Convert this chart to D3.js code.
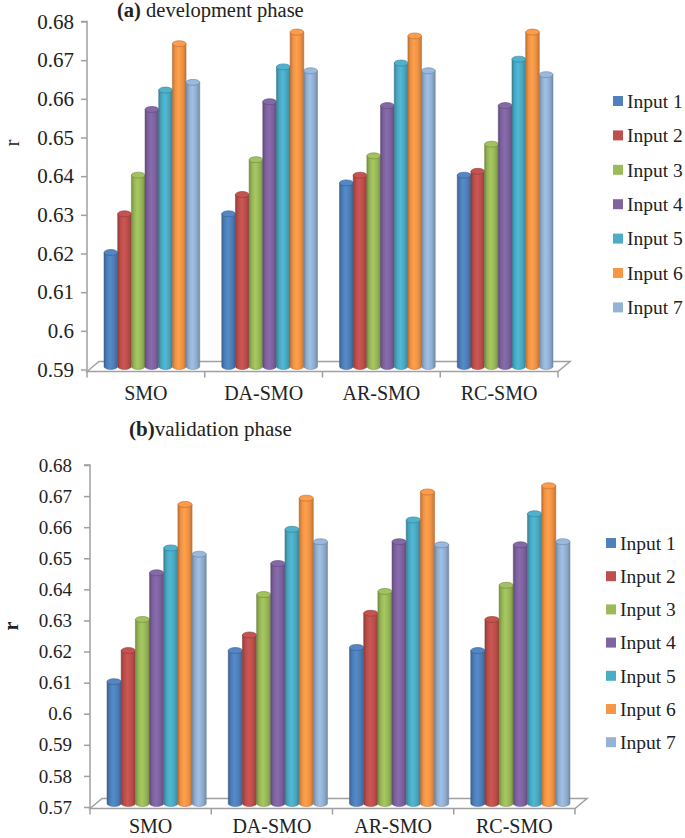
<!DOCTYPE html>
<html><head><meta charset="utf-8">
<script src="https://cdn.jsdelivr.net/npm/d3@7"></script>
<style>
body{margin:0;background:#fff;}
svg{display:block;}
svg text{font-family:"Liberation Serif","Times New Roman",Times,serif !important;}
</style></head>
<body>
<svg id="chart" width="685" height="838"></svg>
<script>
const categories = ["SMO","DA-SMO","AR-SMO","RC-SMO"];
const seriesNames = ["Input 1","Input 2","Input 3","Input 4","Input 5","Input 6","Input 7"];
const seriesColors = ["#4F81BD","#C0504D","#9BBB59","#8064A2","#4BACC6","#F79646","#95B3D7"];

// (a) development phase — one array per series, values per category
const devInput1 = [0.620, 0.630, 0.638, 0.640];
const devInput2 = [0.630, 0.635, 0.640, 0.641];
const devInput3 = [0.640, 0.644, 0.645, 0.648];
const devInput4 = [0.657, 0.659, 0.658, 0.658];
const devInput5 = [0.662, 0.668, 0.669, 0.670];
const devInput6 = [0.674, 0.677, 0.676, 0.677];
const devInput7 = [0.664, 0.667, 0.667, 0.666];

// (b) validation phase
const valInput1 = [0.610, 0.620, 0.621, 0.620];
const valInput2 = [0.620, 0.625, 0.632, 0.630];
const valInput3 = [0.630, 0.638, 0.639, 0.641];
const valInput4 = [0.645, 0.648, 0.655, 0.654];
const valInput5 = [0.653, 0.659, 0.662, 0.664];
const valInput6 = [0.667, 0.669, 0.671, 0.673];
const valInput7 = [0.651, 0.655, 0.654, 0.655];

const devTicks = [0.59,0.60,0.61,0.62,0.63,0.64,0.65,0.66,0.67,0.68];
const valTicks = [0.57,0.58,0.59,0.60,0.61,0.62,0.63,0.64,0.65,0.66,0.67,0.68];

const devSeries = [devInput1,devInput2,devInput3,devInput4,devInput5,devInput6,devInput7];
const valSeries = [valInput1,valInput2,valInput3,valInput4,valInput5,valInput6,valInput7];

const svg = d3.select("#chart");
const defs = svg.append("defs");
seriesColors.forEach((c,i)=>{
  const g = defs.append("linearGradient").attr("id","grad"+i).attr("x1","0%").attr("x2","100%").attr("y1","0%").attr("y2","0%");
  const base = d3.color(c);
  g.append("stop").attr("offset","0%").attr("stop-color", base.darker(0.8));
  g.append("stop").attr("offset","20%").attr("stop-color", base.darker(0.1));
  g.append("stop").attr("offset","45%").attr("stop-color", base.brighter(0.2));
  g.append("stop").attr("offset","75%").attr("stop-color", base.darker(0.1));
  g.append("stop").attr("offset","100%").attr("stop-color", base.darker(0.7));
});
const fmt = d3.format(".2~f");
const FONT = '"Liberation Serif","Times New Roman",serif';

function drawChart(cfg){
  const g = svg.append("g");
  const y = d3.scaleLinear().domain(cfg.yDomain).range(cfg.yRange);
  const x = d3.scaleBand().domain(categories).range([cfg.x0, cfg.x1]).paddingInner(0).paddingOuter(0);
  const inner = d3.scaleBand().domain(seriesNames).range([cfg.groupPad, x.bandwidth()-cfg.groupPad]).padding(0);
  const gray = "#a0a0a0";
  const dx = cfg.depth, dy = cfg.depthY;
  const front = cfg.floorY;
  // floor
  g.append("path")
    .attr("d", `M${cfg.x0},${front} L${cfg.x0+dx},${front-dy} L${cfg.x1+dx},${front-dy} L${cfg.x1},${front} Z`)
    .attr("fill","none").attr("stroke",gray).attr("stroke-width",1.5);
  // category boundary ticks
  const bounds = categories.map(c=>x(c)).concat([cfg.x1]);
  g.selectAll("line.ct").data(bounds).join("line")
    .attr("x1",d=>d).attr("x2",d=>d).attr("y1",front).attr("y2",front+6)
    .attr("stroke",gray).attr("stroke-width",1.5);
  // y axis
  const ya = d3.axisLeft(y).tickValues(cfg.ticks).tickFormat(fmt).tickSize(6).tickPadding(cfg.tickPad);
  const yg = g.append("g").attr("transform",`translate(${cfg.x0},0)`).call(ya).attr("font-family",FONT);
  yg.select(".domain").attr("stroke",gray).attr("stroke-width",1.5)
    .attr("d",`M-6,${y(cfg.yDomain[1])}H0V${front}`);
  yg.selectAll(".tick line").attr("stroke",gray).attr("stroke-width",1.5);
  yg.selectAll(".tick text").attr("font-size",cfg.tickFont).attr("fill","#222");
  // x labels
  const xa = d3.axisBottom(x).tickSize(0).tickPadding(0);
  const xg = g.append("g").attr("transform",`translate(0,${cfg.catY})`).call(xa).attr("font-family",FONT);
  xg.select(".domain").remove();
  xg.selectAll(".tick text").attr("font-size",cfg.catFont).attr("fill","#222").attr("dy","0");
  // bars (cylinders)
  const bw = inner.bandwidth();
  const ry = cfg.capRy;
  const baseY = front - dy/2;
  cfg.series.forEach((vals,si)=>{
    const sg = g.append("g");
    categories.forEach((c,ci)=>{
      const bx = x(c) + inner(seriesNames[si]) + dx/2;
      const ty = y(vals[ci]) - dy/2 + cfg.topAdj;
      const col = d3.color(seriesColors[si]);
      sg.append("path")
        .attr("d",`M${bx},${ty} L${bx},${baseY} A${bw/2},${ry} 0 0 0 ${bx+bw},${baseY} L${bx+bw},${ty} Z`)
        .attr("fill",`url(#grad${si})`).attr("stroke",col.darker(0.9)).attr("stroke-width",0.5);
      sg.append("ellipse").attr("cx",bx+bw/2).attr("cy",ty).attr("rx",bw/2).attr("ry",ry)
        .attr("fill",col.brighter(0.1)).attr("stroke",col.darker(0.9)).attr("stroke-width",0.6);
    });
  });
  // legend
  const lg = g.append("g").attr("font-family",FONT);
  seriesNames.forEach((s,i)=>{
    const cy = cfg.legY + i*cfg.legStep;
    lg.append("rect").attr("x",cfg.legX).attr("y",cy-5).attr("width",10).attr("height",10)
      .attr("fill",seriesColors[i]);
    lg.append("text").attr("x",cfg.legX+cfg.legTextOff).attr("y",cy).attr("dy","0.35em")
      .attr("font-size",cfg.legFont).attr("fill","#222").text(s);
  });
  // title
  const t = g.append("text").attr("x",cfg.titleX).attr("y",cfg.titleY).attr("font-size",cfg.titleFont)
    .attr("font-family",FONT).attr("fill","#222");
  t.append("tspan").attr("font-weight","bold").text(cfg.titleBold);
  t.append("tspan").text(cfg.titleRest);
  // y label
  g.append("text").attr("transform",`translate(${cfg.yLabX},${cfg.yLabY}) rotate(-90)`)
    .attr("text-anchor","middle").attr("font-size",cfg.yLabFont).attr("font-weight",cfg.yLabWeight)
    .attr("font-family",FONT).attr("fill","#222").text("r");
}

drawChart({
  series: devSeries, yDomain:[0.59,0.68], yRange:[369.5,21.5], ticks: devTicks,
  x0:87, x1:558, groupPad:11, depth:12, depthY:10, floorY:371.5, capRy:3, topAdj:4,
  tickFont:21, tickPad:7, catFont:20, catY:400,
  legX:613, legY:101, legStep:34.4, legTextOff:14, legFont:19.5,
  titleX:117, titleY:17, titleFont:20.5, titleBold:"(a)", titleRest:" development phase",
  yLabX:19, yLabY:143, yLabFont:21, yLabWeight:"normal"
});
drawChart({
  series: valSeries, yDomain:[0.57,0.68], yRange:[807,465], ticks: valTicks,
  x0:90, x1:575, groupPad:11, depth:12, depthY:10, floorY:808.5, capRy:3, topAdj:4,
  tickFont:19, tickPad:12, catFont:20, catY:833,
  legX:606, legY:543, legStep:33.2, legTextOff:14, legFont:19.5,
  titleX:129, titleY:436, titleFont:21, titleBold:"(b)", titleRest:"validation phase",
  yLabX:18, yLabY:626, yLabFont:20, yLabWeight:"bold"
});
</script>
</body></html>
